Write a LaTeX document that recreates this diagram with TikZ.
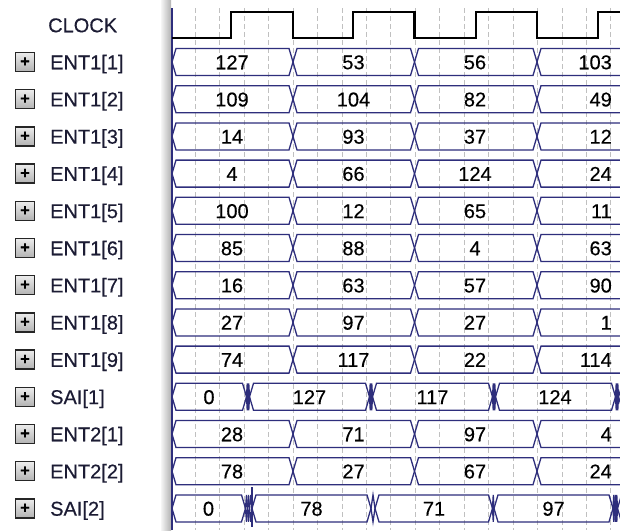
\documentclass[tikz,border=0pt]{standalone}
\usepackage{fontspec}
\setmainfont{Liberation Sans}[FakeBold=0.3]
\usetikzlibrary{calc}
\definecolor{wavenavy}{HTML}{2E2E7C}
\definecolor{gridgray}{HTML}{C0C0C0}
\definecolor{labelink}{HTML}{1C1C34}

% one bus row: #1 = row centre, #2 = list of crossing points
\newcommand\wavebus[2]{%
  \foreach \b [remember=\b as \a (initially 172)] in {#2} {
    \pgfmathsetmacro\d{min(4,(\b-\a)/2)}
    \draw[busline] (\a,#1) -- (\a+\d,#1-13.5) -- (\b-\d,#1-13.5) -- (\b,#1)
      -- (\b-\d,#1+13.5) -- (\a+\d,#1+13.5) -- cycle;
  }}

\begin{document}
\begin{tikzpicture}[
    x=1pt, y=-1pt,
    every node/.style={text=labelink, inner sep=0pt},
    sigfont/.style={font=\fontsize{20}{22}\selectfont, text height=14.5pt, text depth=0pt},
    siglabel/.style={sigfont, anchor=west},
    busvalue/.style={sigfont, text=black},
    busline/.style={draw=wavenavy, line width=1.3pt},
    clockline/.style={draw=black, line width=2.4pt},
    gridline/.style={draw=gridgray, line width=0.8pt, dash pattern=on 5pt off 3pt},
    plusbox/.style={draw=black!85, line width=1.5pt, top color=gray!15, bottom color=gray!60,
      minimum size=19pt, font=\fontsize{16}{16}\selectfont\bfseries, text=black},
  ]

  % Background
  \fill[white] (0,0) rectangle (620,530);
  \useasboundingbox (0,0) rectangle (620,530);

  % Divider between names and waves
  \shade[left color=gray!8, right color=gray!60] (161,0) rectangle (171,530);
  \draw[wavenavy, line width=1.5pt] (172,8) -- (172,530);

  % Grid
  \foreach \k in {0,...,17}
    \draw[gridline] (195.2+\k*24.45,8) -- (195.2+\k*24.45,530);

  % Signal names
  \node[siglabel] (clk-lbl) at (48,25) {CLOCK};
  \foreach \lbl [count=\i] in {ENT1[1],ENT1[2],ENT1[3],ENT1[4],ENT1[5],ENT1[6],
      ENT1[7],ENT1[8],ENT1[9],SAI[1],ENT2[1],ENT2[2],SAI[2]} {
    \pgfmathsetmacro\y{62+(\i-1)*37.2}
    \node[plusbox] (box-\i) at (25,\y) {+};
    \node[siglabel] (lbl-\i) at (50,\y) {\lbl};
  }

  \begin{scope}
    \clip (172,0) rectangle (620,530);

    % Clock
    \draw[clockline] (172,38) -- (231,38) -- (231,12) -- (293,12) -- (293,38)
      -- (353,38) -- (353,12) -- (414.5,12) -- (414.5,38) -- (476,38) -- (476,12)
      -- (537,12) -- (537,38) -- (598,38) -- (598,12) -- (625,12);

    % Inputs, changing on the falling edge
    \foreach \i/\va/\vb/\vc/\vd in {1/127/53/56/103, 2/109/104/82/49, 3/14/93/37/12,
        4/4/66/124/24, 5/100/12/65/11, 6/85/88/4/63, 7/16/63/57/90, 8/27/97/27/1,
        9/74/117/22/114, 11/28/71/97/4, 12/78/27/67/24} {
      \pgfmathsetmacro\y{62+(\i-1)*37.2}
      \wavebus{\y}{293,414.5,537,659}
      \node[busvalue] (val-\i-1) at (232,\y) {\va};
      \node[busvalue] (val-\i-2) at (353.5,\y) {\vb};
      \node[busvalue] (val-\i-3) at (475,\y) {\vc};
      \node[busvalue, anchor=east] (val-\i-4) at (612,\y) {\vd};
    }

    % Outputs
    \wavebus{396.8}{246.5,248,249.5,369.5,371,372.5,492.5,494,495.5,615.5,617,618.5,680}
    \node[busvalue] (sai1-1) at (209,396.8) {0};
    \node[busvalue] (sai1-2) at (309.5,396.8) {127};
    \node[busvalue] (sai1-3) at (432.5,396.8) {117};
    \node[busvalue] (sai1-4) at (555,396.8) {124};

    \wavebus{508.4}{245.5,247.5,249.5,252,371,375,492.5,494,613,614.5,616,617.5,680}
    \draw[busline] (252,487) -- (252,527);
    \node[busvalue] (sai2-1) at (208.5,508.4) {0};
    \node[busvalue] (sai2-2) at (311.5,508.4) {78};
    \node[busvalue] (sai2-3) at (434,508.4) {71};
    \node[busvalue] (sai2-4) at (553.5,508.4) {97};
  \end{scope}

\end{tikzpicture}
\end{document}
